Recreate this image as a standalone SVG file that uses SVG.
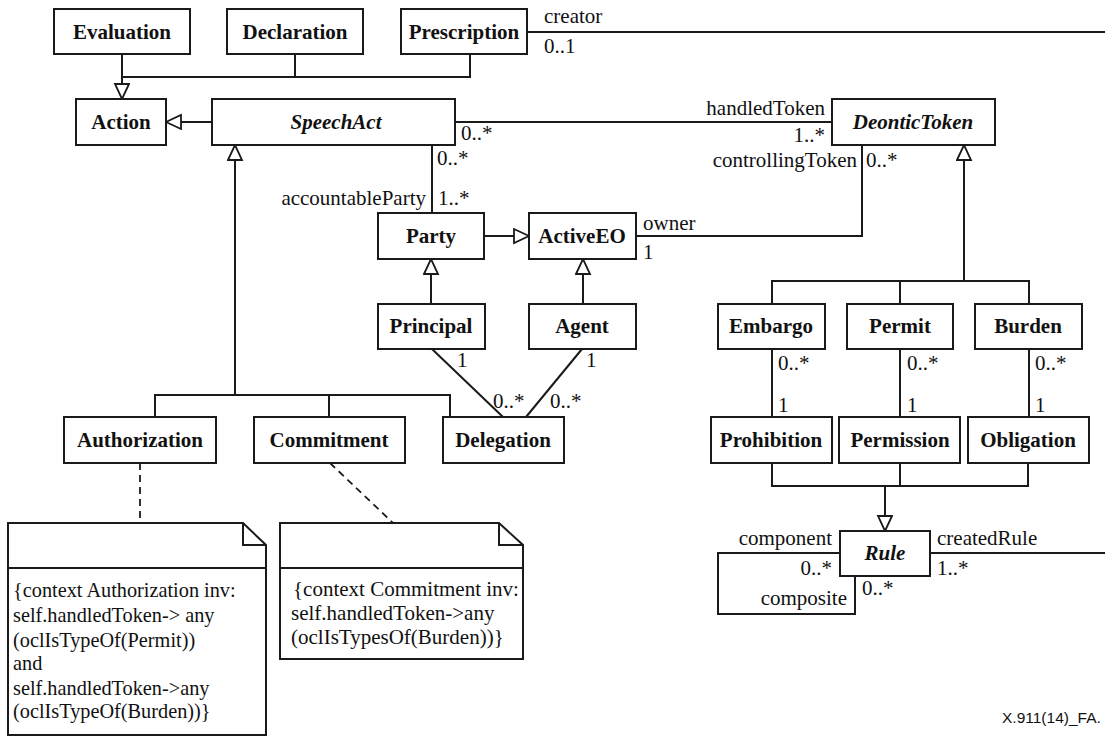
<svg xmlns="http://www.w3.org/2000/svg" width="1105" height="737" viewBox="0 0 1105 737" font-family="Liberation Serif, serif" font-size="21">
<defs>
<marker id="tri" markerUnits="userSpaceOnUse" markerWidth="18" markerHeight="17" viewBox="0 0 18 17" refX="16" refY="8" orient="auto">
<path d="M1,1 L16,8 L1,15 Z" fill="#fff" stroke="#1a1a1a" stroke-width="1.8"/>
</marker>
</defs>
<rect width="1105" height="737" fill="#fff"/>

<g id="connectors">
<g fill="none" stroke="#1a1a1a" stroke-width="2" marker-end="url(#tri)">
<path d="M295,54 V77 M470,54 V77 H122 M122,54 V99"/>
<path d="M212,122 H166"/>
<path d="M155,417 V395 H450 V417 M329,417 V395 M235,395 V145"/>
<path d="M484,236 H529"/>
<path d="M431,304 V259"/>
<path d="M583,304 V259"/>
<path d="M772,304 V281 H1029 V304 M900,304 V281 M964,281 V145"/>
<path d="M772,463 V486 H1028 V463 M900,463 V486 M885,486 V531"/>
</g>
<g fill="none" stroke="#1a1a1a" stroke-width="2">
<path d="M527,32 H1105"/>
<path d="M455,122 H832"/>
<path d="M432,145 V213"/>
<path d="M636,236 H862 V145"/>
<path d="M432,349 L503,417"/>
<path d="M582,349 L526,417"/>
<path d="M772,349 V417 M900,349 V417 M1029,349 V417"/>
<path d="M840,553 H718 V614 H855 V576"/>
<path d="M930,553 H1105"/>
</g>
<g fill="none" stroke="#1a1a1a" stroke-width="1.8" stroke-dasharray="7,5">
<path d="M140,463 V523"/>
<path d="M330,463 L393,523"/>
</g>
<g fill="#111">
<text x="544" y="23">creator</text>
<text x="544" y="53">0..1</text>
<text x="461" y="140">0..*</text>
<text text-anchor="end" x="825" y="115">handledToken</text>
<text text-anchor="end" x="825" y="142">1..*</text>
<text x="437" y="165">0..*</text>
<text text-anchor="end" x="426" y="205">accountableParty</text>
<text x="438" y="205">1..*</text>
<text text-anchor="end" x="857" y="167">controllingToken</text>
<text x="866" y="167">0..*</text>
<text x="643" y="230">owner</text>
<text x="643" y="259">1</text>
<text x="457" y="367">1</text>
<text x="493" y="408">0..*</text>
<text x="586" y="367">1</text>
<text x="550" y="408">0..*</text>
<text x="778" y="370">0..*</text>
<text x="778" y="412">1</text>
<text x="907" y="370">0..*</text>
<text x="907" y="412">1</text>
<text x="1035" y="370">0..*</text>
<text x="1035" y="412">1</text>
<text text-anchor="end" x="832" y="545">component</text>
<text text-anchor="end" x="832" y="575">0..*</text>
<text text-anchor="end" x="847" y="605">composite</text>
<text x="862" y="595">0..*</text>
<text x="937" y="545">createdRule</text>
<text x="937" y="575">1..*</text>
</g>
</g>

<g id="nodes" font-weight="bold" text-anchor="middle">
<g id="Evaluation"><rect x="54" y="9" width="136" height="45" fill="#fff" stroke="#1a1a1a" stroke-width="2"/><text x="122" y="39" fill="#111">Evaluation</text></g>
<g id="Declaration"><rect x="227" y="9" width="136" height="45" fill="#fff" stroke="#1a1a1a" stroke-width="2"/><text x="295" y="39" fill="#111">Declaration</text></g>
<g id="Prescription"><rect x="401" y="9" width="126" height="45" fill="#fff" stroke="#1a1a1a" stroke-width="2"/><text x="464" y="39" fill="#111">Prescription</text></g>
<g id="Action"><rect x="76" y="99" width="90" height="46" fill="#fff" stroke="#1a1a1a" stroke-width="2"/><text x="121" y="129" fill="#111">Action</text></g>
<g id="SpeechAct"><rect x="212" y="99" width="243" height="46" fill="#fff" stroke="#1a1a1a" stroke-width="2"/><text x="336" y="129" fill="#111" font-style="italic">SpeechAct</text></g>
<g id="DeonticToken"><rect x="832" y="99" width="163" height="46" fill="#fff" stroke="#1a1a1a" stroke-width="2"/><text x="913" y="129" fill="#111" font-style="italic">DeonticToken</text></g>
<g id="Party"><rect x="378" y="213" width="106" height="46" fill="#fff" stroke="#1a1a1a" stroke-width="2"/><text x="431" y="243" fill="#111">Party</text></g>
<g id="ActiveEO"><rect x="529" y="213" width="107" height="46" fill="#fff" stroke="#1a1a1a" stroke-width="2"/><text x="582" y="243" fill="#111">ActiveEO</text></g>
<g id="Principal"><rect x="378" y="304" width="107" height="45" fill="#fff" stroke="#1a1a1a" stroke-width="2"/><text x="431" y="333" fill="#111">Principal</text></g>
<g id="Agent"><rect x="529" y="304" width="107" height="45" fill="#fff" stroke="#1a1a1a" stroke-width="2"/><text x="582" y="333" fill="#111">Agent</text></g>
<g id="Authorization"><rect x="64" y="417" width="152" height="46" fill="#fff" stroke="#1a1a1a" stroke-width="2"/><text x="140" y="447" fill="#111">Authorization</text></g>
<g id="Commitment"><rect x="254" y="417" width="151" height="46" fill="#fff" stroke="#1a1a1a" stroke-width="2"/><text x="329" y="447" fill="#111">Commitment</text></g>
<g id="Delegation"><rect x="443" y="417" width="121" height="46" fill="#fff" stroke="#1a1a1a" stroke-width="2"/><text x="503" y="447" fill="#111">Delegation</text></g>
<g id="Embargo"><rect x="718" y="304" width="107" height="45" fill="#fff" stroke="#1a1a1a" stroke-width="2"/><text x="771" y="333" fill="#111">Embargo</text></g>
<g id="Permit"><rect x="847" y="304" width="106" height="45" fill="#fff" stroke="#1a1a1a" stroke-width="2"/><text x="900" y="333" fill="#111">Permit</text></g>
<g id="Burden"><rect x="975" y="304" width="107" height="45" fill="#fff" stroke="#1a1a1a" stroke-width="2"/><text x="1028" y="333" fill="#111">Burden</text></g>
<g id="Prohibition"><rect x="711" y="417" width="121" height="46" fill="#fff" stroke="#1a1a1a" stroke-width="2"/><text x="771" y="447" fill="#111">Prohibition</text></g>
<g id="Permission"><rect x="839" y="417" width="121" height="46" fill="#fff" stroke="#1a1a1a" stroke-width="2"/><text x="900" y="447" fill="#111">Permission</text></g>
<g id="Obligation"><rect x="968" y="417" width="121" height="46" fill="#fff" stroke="#1a1a1a" stroke-width="2"/><text x="1028" y="447" fill="#111">Obligation</text></g>
<g id="Rule"><rect x="840" y="531" width="90" height="45" fill="#fff" stroke="#1a1a1a" stroke-width="2"/><text x="885" y="560" fill="#111" font-style="italic">Rule</text></g>
</g>

<g id="NoteAuthorization" fill="#111">
<path d="M8,523 H243 L266,545 V735 H8 Z" fill="#fff" stroke="#1a1a1a" stroke-width="2"/>
<path d="M243,523 V545 H266 M8,568 H266" fill="none" stroke="#1a1a1a" stroke-width="2"/>
<g font-size="20.3">
<text x="13" y="597">{context Authorization inv:</text>
<text x="13" y="622">self.handledToken-&gt; any</text>
<text x="13" y="647">(oclIsTypeOf(Permit))</text>
<text x="13" y="670">and</text>
<text x="13" y="695">self.handledToken-&gt;any</text>
<text x="13" y="718">(oclIsTypeOf(Burden))}</text>
</g>
</g>
<g id="NoteCommitment" fill="#111">
<path d="M280,523 H499 L523,545 V659 H280 Z" fill="#fff" stroke="#1a1a1a" stroke-width="2"/>
<path d="M499,523 V545 H523 M280,568 H523" fill="none" stroke="#1a1a1a" stroke-width="2"/>
<text x="293" y="596">{context Commitment inv:</text>
<text x="291" y="620">self.handledToken-&gt;any</text>
<text x="291" y="644">(oclIsTypesOf(Burden))}</text>
</g>

<text font-family="Liberation Sans, sans-serif" font-size="15.5" fill="#111" x="1002" y="723">X.911(14)_FA.</text>
</svg>
